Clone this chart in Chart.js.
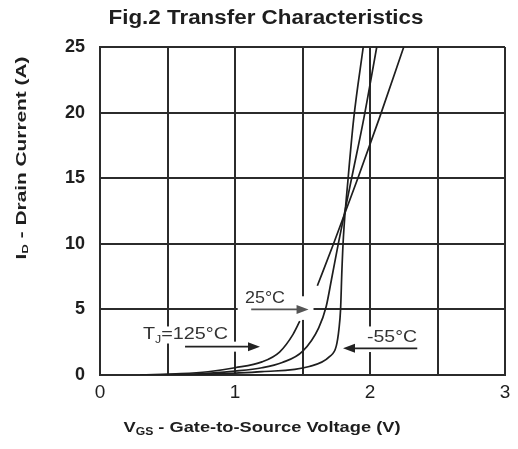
<!DOCTYPE html>
<html>
<head>
<meta charset="utf-8">
<script src="https://cdn.jsdelivr.net/npm/chart.js@4.4.1/dist/chart.umd.min.js"></script>
<style>
  html, body { margin: 0; padding: 0; background: #fff; }
</style>
</head>
<body>
<canvas id="transferChart" width="518" height="449"></canvas>
<script>
// V_GS (V) and I_D (A), one pair per junction temperature
// (null = the break where the 25°C arrow cuts the 125°C curve)
const vgs125 = [0.3, 0.6, 0.8, 1.0, 1.2, 1.33, 1.43, 1.48, 1.54, 1.61, 1.73, 1.91, 2.07, 2.25];
const id125  = [0, 0.1, 0.25, 0.55, 1.0, 1.75, 3.1, 4.1, null, 6.8, 10, 15, 19.6, 25];

const vgs25 = [0.3, 0.7, 1.0, 1.2, 1.35, 1.5, 1.62, 1.675, 1.715, 1.765, 1.864, 1.955, 2.05];
const id25  = [0, 0.07, 0.3, 0.55, 0.95, 1.8, 3.6, 5.2, 7.3, 10, 15, 19.6, 25];

const vgsM55 = [0.3, 0.8, 1.2, 1.55, 1.7, 1.75, 1.77, 1.782, 1.792, 1.803, 1.838, 1.88, 1.95];
const idM55  = [0, 0.06, 0.25, 0.65, 1.4, 2.2, 3.5, 5, 8, 10.5, 15, 19.6, 25];

const xTickLabels = ['0', '1', '2', '3'];
const yTickLabels = ['0', '5', '10', '15', '20', '25'];

const FONT = '"Liberation Sans", Arial, Helvetica, sans-serif';
const INK = '#1e1e1e';
const GRID = '#2b2b2b';

const toPoints = (xs, ys) => xs.map((x, i) => ({ x: x, y: ys[i] }));

// draws a row of text runs centred on (x, y), stretched to the given width
function fitText(ctx, runs, x, y, width, angle) {
  ctx.save();
  let total = 0;
  runs.forEach(r => { ctx.font = r.font; r.w = ctx.measureText(r.t).width; total += r.w; });
  ctx.translate(x, y);
  if (angle) ctx.rotate(angle);
  ctx.scale(width / total, 1);
  ctx.textBaseline = 'middle';
  ctx.textAlign = 'left';
  let cx = -total / 2;
  runs.forEach(r => {
    ctx.font = r.font;
    ctx.fillStyle = r.color || INK;
    ctx.fillText(r.t, cx, r.dy || 0);
    cx += r.w;
  });
  ctx.restore();
}

function arrow(ctx, x1, y, x2, color) {
  const dir = x2 > x1 ? 1 : -1;
  ctx.save();
  ctx.strokeStyle = color;
  ctx.fillStyle = color;
  ctx.lineWidth = 1.6;
  ctx.beginPath();
  ctx.moveTo(x1, y);
  ctx.lineTo(x2 - dir * 8, y);
  ctx.stroke();
  ctx.beginPath();
  ctx.moveTo(x2, y);
  ctx.lineTo(x2 - dir * 12, y - 4.5);
  ctx.lineTo(x2 - dir * 12, y + 4.5);
  ctx.closePath();
  ctx.fill();
  ctx.restore();
}

// labels sitting on white patches that break the grid, like the datasheet
const labelPlugin = {
  id: 'labels',
  beforeDatasetsDraw(chart) {
    const ctx = chart.ctx;
    const xs = chart.scales.x, ys = chart.scales.y;
    const px = v => xs.getPixelForValue(v), py = v => ys.getPixelForValue(v);
    ctx.save();
    ctx.fillStyle = '#fff';
    // 25°C
    ctx.fillRect(px(1.02), py(5) - 4, px(1.58) - px(1.02), 8);
    ctx.fillRect(px(1.47), py(6.0), px(1.58) - px(1.47), py(4.2) - py(6.0));
    // TJ=125°C
    ctx.fillRect(px(0.31), py(3.7), px(0.97) - px(0.31), py(2.4) - py(3.7));
    ctx.fillRect(px(0.6), py(2.16) - 5, px(1.22) - px(0.6), 10);
    // -55°C
    ctx.fillRect(px(1.98), py(3.7), px(2.38) - px(1.98), py(1.75) - py(3.7));
    ctx.restore();

    const txt = '16px ' + FONT, sub = '10px ' + FONT;
    fitText(ctx, [{ t: '25°C', font: txt, color: '#333' }], px(1.222), py(5.8), 40);
    arrow(ctx, px(1.12), py(5), px(1.545), '#555');

    fitText(ctx, [
      { t: 'T', font: txt, color: '#333' },
      { t: 'J', font: sub, dy: 5, color: '#333' },
      { t: '=125°C', font: txt, color: '#333' }
    ], px(0.633), py(3.05), 85);
    arrow(ctx, px(0.63), py(2.16), px(1.185), '#222');

    fitText(ctx, [{ t: '-55°C', font: txt, color: '#333' }], px(2.163), py(2.86), 50);
    arrow(ctx, px(2.35), py(2.03), px(1.80), '#222');
  },
  afterDraw(chart) {
    const ctx = chart.ctx;
    fitText(ctx, [{ t: 'Fig.2 Transfer Characteristics', font: 'bold 20px ' + FONT }], 266, 18, 315);
    fitText(ctx, [
      { t: 'V', font: 'bold 15px ' + FONT },
      { t: 'GS', font: 'bold 10px ' + FONT, dy: 4 },
      { t: ' - Gate-to-Source Voltage (V)', font: 'bold 15px ' + FONT }
    ], 262, 428, 277);
    fitText(ctx, [
      { t: 'I', font: 'bold 14px ' + FONT },
      { t: 'D', font: 'bold 9px ' + FONT, dy: 4 },
      { t: ' - Drain Current (A)', font: 'bold 14px ' + FONT }
    ], 22, 158, 203, -Math.PI / 2);
  }
};

const curve = (data) => ({
  data: data,
  borderColor: INK,
  borderWidth: 1.7,
  pointRadius: 0,
  fill: false,
  spanGaps: false,
  cubicInterpolationMode: 'monotone'
});

new Chart(document.getElementById('transferChart').getContext('2d'), {
  type: 'line',
  data: {
    datasets: [
      curve(toPoints(vgs125, id125)),
      curve(toPoints(vgs25, id25)),
      curve(toPoints(vgsM55, idM55))
    ]
  },
  options: {
    responsive: false,
    animation: false,
    devicePixelRatio: 1,
    layout: { padding: { top: 47, right: 13, left: 0, bottom: 0 } },
    plugins: { legend: { display: false }, tooltip: { enabled: false } },
    scales: {
      x: {
        type: 'linear',
        min: 0,
        max: 3,
        afterFit: s => { s.height = 74; },
        ticks: {
          stepSize: 0.5,
          autoSkip: false,
          maxRotation: 0,
          padding: 6,
          color: INK,
          font: { family: FONT, size: 19 },
          callback: v => Number.isInteger(v) ? xTickLabels[v] : ''
        },
        grid: { color: GRID, lineWidth: 2, drawTicks: false },
        border: { color: GRID, width: 2 }
      },
      y: {
        min: 0,
        max: 25,
        afterFit: s => { s.width = 100; },
        ticks: {
          stepSize: 5,
          padding: 15,
          color: INK,
          font: { family: FONT, size: 18, weight: 'bold' },
          callback: v => yTickLabels[v / 5]
        },
        grid: { color: GRID, lineWidth: 2, drawTicks: false },
        border: { color: GRID, width: 2 }
      }
    }
  },
  plugins: [labelPlugin]
});
</script>
</body>
</html>
